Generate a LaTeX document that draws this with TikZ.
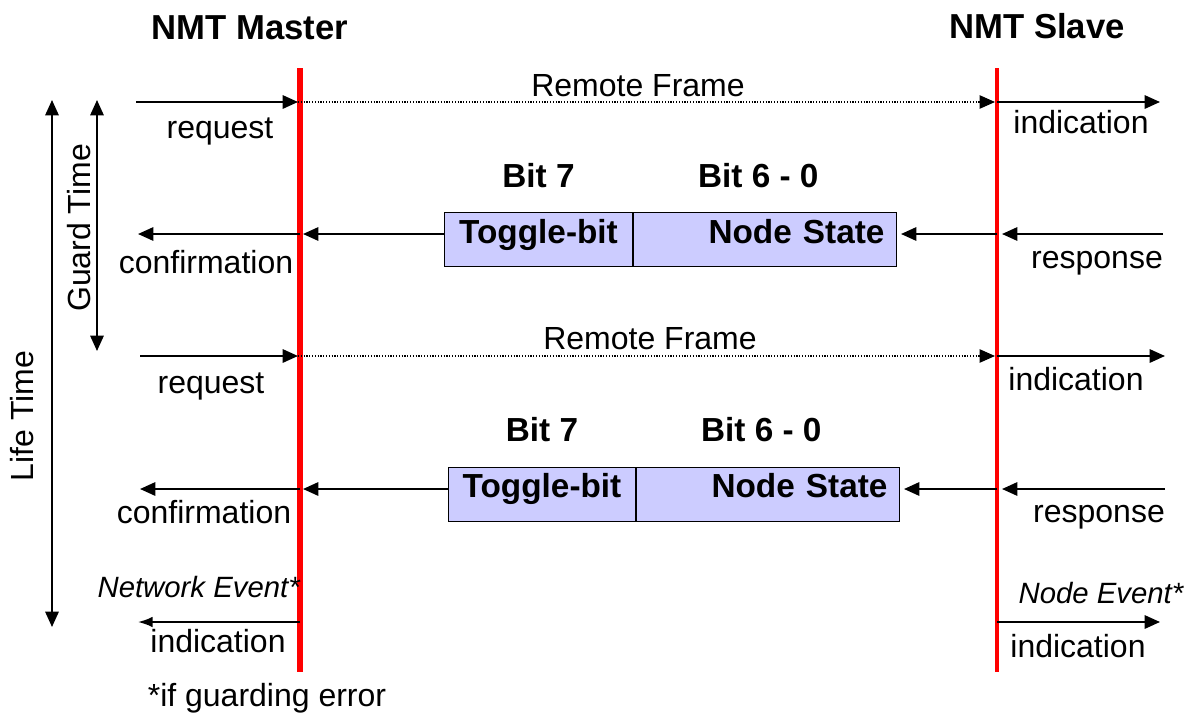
\documentclass[tikz,border=0pt]{standalone}
\usepackage{fontspec}
\setmainfont{Liberation Sans}
\usetikzlibrary{arrows.meta,positioning}
\definecolor{boxblue}{RGB}{204,204,255}

\begin{document}
\begin{tikzpicture}[x=0.75pt,y=-0.75pt] % node guarding
\tikzstyle{every node}+=[inner sep=0pt,font=\fontsize{24}{28}\selectfont]
\tikzstyle{title}=[font=\fontsize{26}{30}\selectfont\bfseries]
\tikzstyle{bits}=[font=\fontsize{25}{30}\selectfont\bfseries]
\tikzstyle{event}=[font=\fontsize{22}{26}\selectfont\itshape]
\tikzstyle{cellbox}=[draw=black,line width=0.75pt,fill=boxblue,minimum height=40.5pt,text height=12pt,text depth=6.75pt,inner xsep=9pt,font=\fontsize{25}{30}\selectfont\bfseries]
\tikzstyle{msg}=[black,line width=1.5pt,-{Triangle[length=11.5pt,width=10pt]}]
\tikzstyle{remote}=[msg,line width=0.9pt,dash pattern=on 0.9pt off 1.2pt]
\tikzstyle{span}=[black,line width=1.5pt,{Triangle[length=11.5pt,width=10pt]}-{Triangle[length=11.5pt,width=10pt]}]
\tikzstyle{lifeline}=[red,line width=4pt]
\useasboundingbox (0,0) rectangle (1189,714);
% life lines
\coordinate (mtop) at (300,68);
\coordinate (mbot) at (300,672);
\coordinate (stop) at (997,68);
\coordinate (sbot) at (997,672);
\draw[lifeline] (mtop) -- (mbot);
\draw[lifeline,line width=3pt] (stop) -- (sbot);
\node[title,anchor=base] (master) at (250,39) {NMT Master};
\node[title,anchor=base] (slave) at (1037,38) {NMT Slave};
% time spans
\coordinate (gtop) at (97,100);
\coordinate (gbot) at (97,351);
\draw[span] (gtop) -- (gbot);
\node[rotate=90] (guard) at (79,228) {Guard Time};
\coordinate (ltop) at (52,100);
\coordinate (lbot) at (52,627);
\draw[span] (ltop) -- (lbot);
\node[rotate=90] (life) at (22,416) {Life Time};
% first request
\coordinate (req1) at (136,102);
\coordinate (mreq1) at (298,102);
\coordinate (sreq1) at (995,102);
\coordinate (sind1) at (997,102);
\coordinate (ind1) at (1160,102);
\draw[msg] (req1) -- (mreq1);
\draw[remote] (mreq1) -- (sreq1);
\draw[msg] (sind1) -- (ind1);
\node[anchor=base] (request1) at (220,138) {request};
\node[anchor=base] (frame1) at (638,96) {Remote Frame};
\node[anchor=base] (indication1) at (1081,133) {indication};
% first response
\node[cellbox,minimum width=141pt,anchor=east] (toggle1) at (633,239.5) {Toggle-bit};
\node[cellbox,text width=179.25pt,align=right,anchor=west] (state1) at (633,239.5) {Node State};
\node[bits,above=18pt of toggle1] (bitseven1) {Bit 7};
\node[bits,above=18pt of state1,xshift=-5pt] (bitsix1) {Bit 6 - 0};
\coordinate (resp1) at (1163,234);
\coordinate (sresp1) at (1002,234);
\coordinate (sout1) at (997,234);
\coordinate (mconf1) at (303,234);
\coordinate (mout1) at (300,234);
\coordinate (conf1) at (138,234);
\draw[msg] (resp1) -- (sresp1);
\draw[msg,shorten >=3pt] (sout1) -- (sout1 -| state1.east);
\draw[msg] (mconf1 -| toggle1.west) -- (mconf1);
\draw[msg] (mout1) -- (conf1);
\node[anchor=base] (confirmation1) at (206,273) {confirmation};
\node[anchor=base] (response1) at (1097,268) {response};
% second request
\coordinate (req2) at (140,356);
\coordinate (mreq2) at (298,356);
\coordinate (sreq2) at (995,356);
\coordinate (sind2) at (997,356);
\coordinate (ind2) at (1165,356);
\draw[msg] (req2) -- (mreq2);
\draw[remote] (mreq2) -- (sreq2);
\draw[msg] (sind2) -- (ind2);
\node[anchor=base] (request2) at (211,393) {request};
\node[anchor=base] (frame2) at (650,349) {Remote Frame};
\node[anchor=base] (indication2) at (1076,390) {indication};
% second response
\node[cellbox,minimum width=140.25pt,anchor=east] (toggle2) at (636,494) {Toggle-bit};
\node[cellbox,text width=179.25pt,align=right,anchor=west] (state2) at (636,494) {Node State};
\node[bits,above=18pt of toggle2] (bitseven2) {Bit 7};
\node[bits,above=18pt of state2,xshift=-5pt] (bitsix2) {Bit 6 - 0};
\coordinate (resp2) at (1165,489);
\coordinate (sresp2) at (1002,489);
\coordinate (sout2) at (997,489);
\coordinate (mconf2) at (303,489);
\coordinate (mout2) at (300,489);
\coordinate (conf2) at (140,489);
\draw[msg] (resp2) -- (sresp2);
\draw[msg,shorten >=3pt] (sout2) -- (sout2 -| state2.east);
\draw[msg] (mconf2 -| toggle2.west) -- (mconf2);
\draw[msg] (mout2) -- (conf2);
\node[anchor=base] (confirmation2) at (204,523) {confirmation};
\node[anchor=base] (response2) at (1099,522) {response};
% guarding error
\node[event,anchor=base east] (netevent) at (300,597) {Network Event*};
\coordinate (mnet) at (300,622);
\coordinate (netind) at (138,622);
\draw[msg,-{Latex[length=11pt,width=8pt]}] (mnet) -- (netind);
\node[anchor=base] (indication3) at (218,652) {indication};
\node[event,anchor=base] (nodeevent) at (1101,603) {Node Event*};
\coordinate (snode) at (997,622);
\coordinate (nodeind) at (1160,622);
\draw[msg] (snode) -- (nodeind);
\node[anchor=base] (indication4) at (1078,657) {indication};
\node[anchor=base] (footnote) at (267,706) {*if guarding error};
\end{tikzpicture}
\end{document}
